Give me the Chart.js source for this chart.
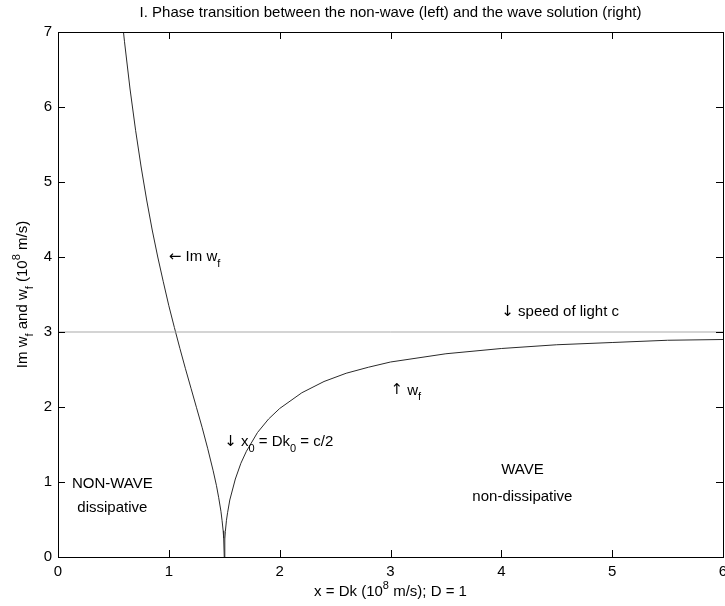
<!DOCTYPE html>
<html>
<head>
<meta charset="utf-8">
<script src="https://cdn.jsdelivr.net/npm/chart.js@4/dist/chart.umd.min.js"></script>
<style>
  html, body { margin: 0; padding: 0; background: #fff; }
  #wrap { width: 725px; height: 606px; }
</style>
</head>
<body>
<div id="wrap"><canvas id="phaseChart"></canvas></div>
<script>
// non-wave branch: Im w_f, x < c/2
var xImag = [0.59, 0.60, 0.65, 0.70, 0.75, 0.80, 0.85, 0.90, 0.95, 1.00, 1.05, 1.10, 1.15, 1.20,
             1.25, 1.30, 1.35, 1.40, 1.43, 1.45, 1.47, 1.48, 1.49, 1.495, 1.50];
var imagW = [7.01, 6.87, 6.24, 5.69, 5.20, 4.76, 4.36, 4.00, 3.67, 3.35, 3.06, 2.78, 2.51, 2.25,
             1.99, 1.73, 1.45, 1.15, 0.95, 0.79, 0.61, 0.49, 0.35, 0.25, 0];

// wave branch: w_f, x > c/2
var xReal = [1.50, 1.505, 1.51, 1.52, 1.53, 1.55, 1.60, 1.65, 1.70, 1.80, 1.90, 2.00, 2.20, 2.40,
             2.60, 2.80, 3.00, 3.50, 4.00, 4.50, 5.00, 5.50, 6.00];
var realW = [0, 0.24, 0.34, 0.49, 0.59, 0.76, 1.04, 1.25, 1.41, 1.66, 1.84, 1.98, 2.19, 2.34,
             2.45, 2.53, 2.60, 2.71, 2.78, 2.83, 2.86, 2.89, 2.90];

// speed of light c
var lightX = [0, 6];
var lightC = [3, 3];

var xRange = [0, 6];
var yRange = [0, 7];

var FONT = "'Liberation Sans', Arial, Helvetica, sans-serif";
var ARROW_FONT = "'DejaVu Sans', sans-serif";
var FS = 15;

function pts(xs, ys) {
    return xs.map(function (x, i) { return { x: x, y: ys[i] }; });
}

// text labels placed in data units
var notes = [
    { x: 1.0, y: 4.0, align: 'left', parts: [{ t: '\u2190', arrow: true }, { t: ' Im w' }, { t: 'f', sub: true }] },
    { x: 4.0, y: 3.27, align: 'left', parts: [{ t: '\u2193', arrow: true }, { t: ' speed of light c' }] },
    { x: 3.0, y: 2.22, align: 'left', parts: [{ t: '\u2191', arrow: true }, { t: ' w' }, { t: 'f', sub: true }] },
    { x: 1.5, y: 1.53, align: 'left', parts: [{ t: '\u2193', arrow: true }, { t: ' x' }, { t: '0', sub: true }, { t: ' = Dk' }, { t: '0', sub: true }, { t: ' = c/2' }] },
    { x: 4.19, y: 1.16, align: 'center', parts: [{ t: 'WAVE' }] },
    { x: 4.19, y: 0.80, align: 'center', parts: [{ t: 'non-dissipative' }] },
    { x: 0.49, y: 0.97, align: 'center', parts: [{ t: 'NON-WAVE' }] },
    { x: 0.49, y: 0.65, align: 'center', parts: [{ t: 'dissipative' }] }
];

function partFont(p) {
    var s = (p.sub || p.sup) ? Math.round(FS * 0.75) : FS;
    return s + 'px ' + (p.arrow ? ARROW_FONT : FONT);
}

function drawRich(ctx, parts, x, y, align) {
    var w = 0;
    parts.forEach(function (p) { ctx.font = partFont(p); w += ctx.measureText(p.t).width; });
    var cx = align === 'center' ? x - w / 2 : x;
    ctx.textAlign = 'left';
    ctx.textBaseline = 'middle';
    parts.forEach(function (p) {
        ctx.font = partFont(p);
        var dy = p.sub ? FS * 0.46 : (p.sup ? -FS * 0.42 : 0);
        ctx.fillText(p.t, cx, y + dy);
        cx += ctx.measureText(p.t).width;
    });
}

var matlabBox = {
    id: 'matlabBox',
    afterDraw: function (chart) {
        var ctx = chart.ctx;
        var a = chart.chartArea;
        var xs = chart.scales.x, ys = chart.scales.y;
        ctx.save();
        ctx.strokeStyle = '#000';
        ctx.lineWidth = 1;
        ctx.strokeRect(Math.round(a.left) + 0.5, Math.round(a.top) + 0.5,
                       Math.round(a.right - a.left), Math.round(a.bottom - a.top));
        var tl = 7;
        ctx.beginPath();
        xs.ticks.forEach(function (t) {
            var px = Math.round(xs.getPixelForValue(t.value)) + 0.5;
            ctx.moveTo(px, a.bottom); ctx.lineTo(px, a.bottom - tl);
            ctx.moveTo(px, a.top); ctx.lineTo(px, a.top + tl);
        });
        ys.ticks.forEach(function (t) {
            var py = Math.round(ys.getPixelForValue(t.value)) + 0.5;
            ctx.moveTo(a.left, py); ctx.lineTo(a.left + tl, py);
            ctx.moveTo(a.right, py); ctx.lineTo(a.right - tl, py);
        });
        ctx.stroke();

        ctx.fillStyle = '#000';
        notes.forEach(function (n) {
            drawRich(ctx, n.parts, xs.getPixelForValue(n.x), ys.getPixelForValue(n.y), n.align);
        });

        var midX = (a.left + a.right) / 2;
        var midY = (a.top + a.bottom) / 2;
        drawRich(ctx, [{ t: 'I. Phase transition between the non-wave (left) and the wave solution (right)' }],
                 midX, 13, 'center');
        drawRich(ctx, [{ t: 'x = Dk (10' }, { t: '8', sup: true }, { t: ' m/s); D = 1' }],
                 midX, 592, 'center');

        ctx.translate(23, midY);
        ctx.rotate(-Math.PI / 2);
        drawRich(ctx, [{ t: 'Im w' }, { t: 'f', sub: true }, { t: ' and w' }, { t: 'f', sub: true },
                       { t: ' (10' }, { t: '8', sup: true }, { t: ' m/s)' }], 0, 0, 'center');
        ctx.restore();
    }
};

var ctx = document.getElementById('phaseChart').getContext('2d');
var chart = new Chart(ctx, {
    type: 'scatter',
    data: {
        datasets: [
            {
                label: 'speed of light c',
                data: pts(lightX, lightC),
                showLine: true,
                borderColor: '#a9a9a9',
                borderWidth: 1,
                pointRadius: 0
            },
            {
                label: 'Im w_f',
                data: pts(xImag, imagW),
                showLine: true,
                borderColor: '#2a2a2a',
                borderWidth: 1,
                pointRadius: 0
            },
            {
                label: 'w_f',
                data: pts(xReal, realW),
                showLine: true,
                borderColor: '#2a2a2a',
                borderWidth: 1,
                pointRadius: 0
            }
        ]
    },
    options: {
        responsive: true,
        maintainAspectRatio: false,
        animation: false,
        layout: { padding: { top: 32, right: 2, left: 0, bottom: 0 } },
        scales: {
            x: {
                type: 'linear',
                min: xRange[0],
                max: xRange[1],
                grid: { display: false, drawTicks: false },
                border: { display: false },
                ticks: { stepSize: 1, padding: 6, color: '#000', font: { family: FONT, size: FS } },
                afterFit: function (s) { s.height = 49; s.paddingLeft = 0; s.paddingRight = 0; }
            },
            y: {
                type: 'linear',
                min: yRange[0],
                max: yRange[1],
                grid: { display: false, drawTicks: false },
                border: { display: false },
                ticks: { stepSize: 1, padding: 6, color: '#000', font: { family: FONT, size: FS } },
                afterFit: function (s) { s.width = 58; s.paddingTop = 0; s.paddingBottom = 0; }
            }
        },
        plugins: {
            legend: { display: false },
            title: { display: false },
            tooltip: { enabled: false }
        }
    },
    plugins: [matlabBox]
});
</script>
</body>
</html>
